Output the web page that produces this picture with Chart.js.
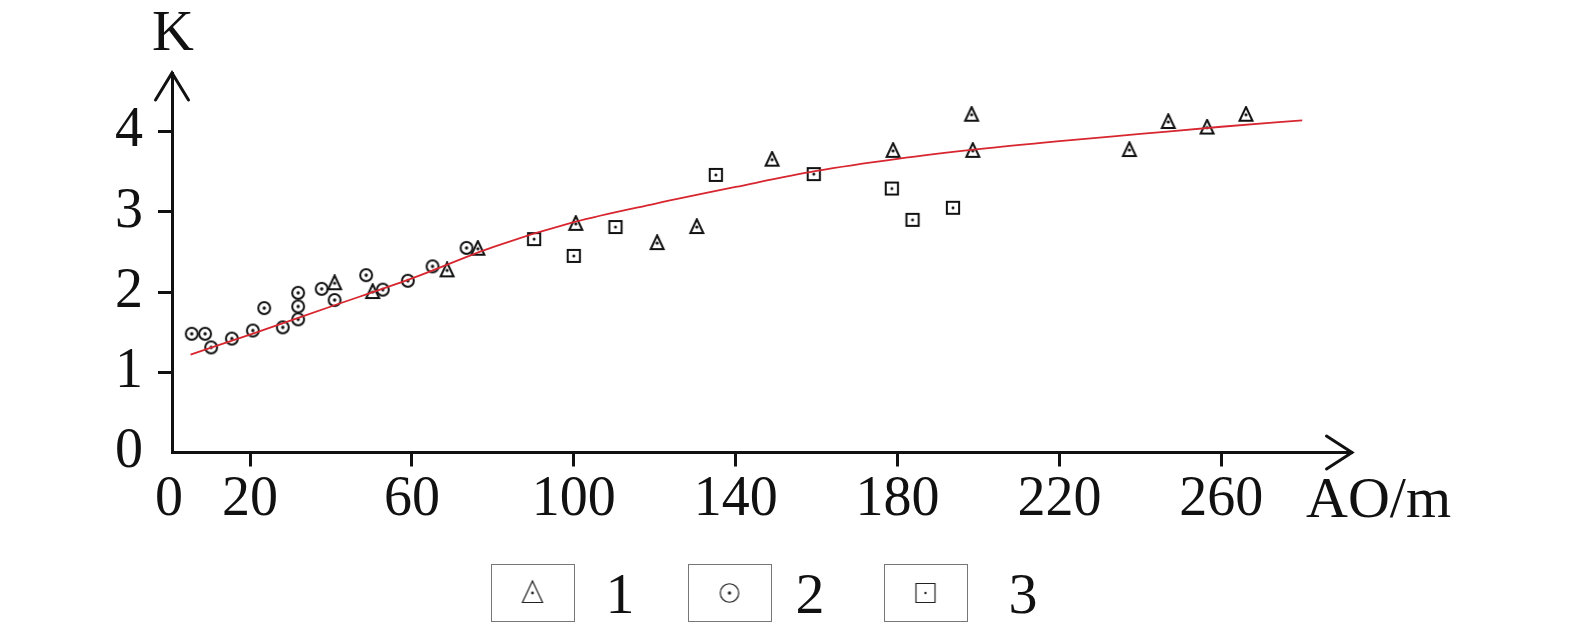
<!DOCTYPE html>
<html lang="en">
<head>
  <meta charset="UTF-8">
  <title>K vs AO/m</title>
  <script src="https://cdn.jsdelivr.net/npm/chart.js"></script>
  <style>
    html, body { margin: 0; padding: 0; background: #fff; }
    .chart-container { width: 1575px; height: 632px; position: relative; }
  </style>
</head>
<body>
  <div class="chart-container">
    <canvas id="kChart"></canvas>
  </div>

  <script>
    // series 1 (triangles)
    const s1X = [40.9, 50.3, 68.7, 76.3, 100.5, 120.6, 130.4, 149.0, 178.9, 198.3, 198.6, 237.3, 246.9, 256.5, 266.1];
    const s1Y = [2.11, 2.00, 2.27, 2.54, 2.85, 2.61, 2.81, 3.65, 3.76, 4.21, 3.76, 3.77, 4.12, 4.05, 4.21];
    // series 2 (circles)
    const s2X = [5.6, 8.9, 10.4, 15.5, 20.7, 23.5, 28.1, 31.9, 31.9, 31.9, 37.7, 40.9, 48.7, 52.8, 59.0, 65.1, 73.5];
    const s2Y = [1.48, 1.48, 1.31, 1.42, 1.52, 1.80, 1.56, 1.99, 1.82, 1.66, 2.04, 1.90, 2.21, 2.03, 2.14, 2.32, 2.55];
    // series 3 (squares)
    const s3X = [90.2, 100.0, 110.3, 135.1, 159.3, 178.6, 183.7, 193.7];
    const s3Y = [2.66, 2.45, 2.81, 3.46, 3.47, 3.29, 2.90, 3.05];
    // fitted curve
    const curveX = [5.3, 20, 40, 60, 80, 100, 120, 140, 160, 180, 200, 220, 240, 260, 280];
    const curveY = [1.22, 1.47, 1.82, 2.17, 2.56, 2.87, 3.10, 3.31, 3.51, 3.66, 3.78, 3.88, 3.97, 4.06, 4.14];

    const seriesLabels = ['1', '2', '3'];
    const xTickValues = [0, 20, 60, 100, 140, 180, 220, 260];
    const yTickValues = [0, 1, 2, 3, 4];

    const serif = "'Liberation Serif', 'DejaVu Serif', serif";
    const ink = '#111';

    function pairs(xs, ys) {
      return xs.map((x, i) => ({ x: x, y: ys[i] }));
    }

    // marker images: outline shape with a dot in the middle
    function makeMarker(kind, size, lw, dotR, color) {
      const c = document.createElement('canvas');
      c.width = size;
      c.height = size;
      const g = c.getContext('2d');
      const m = size / 2;
      g.strokeStyle = color;
      g.fillStyle = color;
      g.lineWidth = lw;
      g.lineJoin = 'miter';
      g.beginPath();
      if (kind === 'circle') {
        g.arc(m, m, size * 0.33, 0, Math.PI * 2);
      } else if (kind === 'square') {
        const h = size * 0.34;
        g.rect(m - h, m - h, 2 * h, 2 * h);
      } else {
        g.moveTo(m, size * 0.07);
        g.lineTo(m + size * 0.36, size * 0.84);
        g.lineTo(m - size * 0.36, size * 0.84);
        g.closePath();
      }
      g.stroke();
      g.beginPath();
      g.arc(m, m, dotR, 0, Math.PI * 2);
      g.fill();
      return c;
    }

    const plotMarkers = [
      makeMarker('triangle', 18, 2.0, 1.6, ink),
      makeMarker('circle', 18, 2.0, 1.7, ink),
      makeMarker('square', 18, 2.0, 1.5, ink)
    ];
    const legendMarkers = [
      makeMarker('triangle', 28, 1.2, 1.4, '#222'),
      makeMarker('circle', 28, 1.2, 1.7, '#222'),
      makeMarker('square', 28, 1.2, 1.2, '#222')
    ];

    // axis arrows, axis titles and the boxed legend
    const decorations = {
      id: 'decorations',
      afterDraw(chart) {
        const ctx = chart.ctx;
        const a = chart.chartArea;
        ctx.save();
        ctx.strokeStyle = ink;
        ctx.lineWidth = 3;
        ctx.lineCap = 'round';
        ctx.beginPath();
        ctx.moveTo(a.left - 16.5, a.top + 27);
        ctx.lineTo(a.left, a.top);
        ctx.lineTo(a.left + 16.5, a.top + 27);
        ctx.moveTo(a.right - 25.5, a.bottom - 16.5);
        ctx.lineTo(a.right, a.bottom);
        ctx.lineTo(a.right - 25.5, a.bottom + 16.5);
        ctx.stroke();

        ctx.fillStyle = ink;
        ctx.font = '58px ' + serif;
        ctx.textBaseline = 'alphabetic';
        ctx.textAlign = 'center';
        ctx.fillText('K', a.left + 1, 50);
        ctx.textAlign = 'left';
        ctx.fillText('AO/m', 1306, 517);

        // legend
        const boxLeft = [491, 688, 884];
        const labelCenter = [620, 810, 1023];
        ctx.lineWidth = 1;
        ctx.strokeStyle = '#777';
        ctx.textAlign = 'center';
        ctx.font = '58px ' + serif;
        chart.data.datasets.slice(1).forEach((ds, i) => {
          ctx.strokeRect(boxLeft[i] + 0.5, 564.5, 83, 57);
          const img = legendMarkers[i];
          ctx.drawImage(img, boxLeft[i] + 41.5 - img.width / 2, 593 - img.height / 2);
          ctx.fillText(ds.label, labelCenter[i], 613);
        });
        ctx.restore();
      }
    };

    const config = {
      type: 'scatter',
      data: {
        datasets: [
          {
            label: 'fit',
            data: pairs(curveX, curveY),
            showLine: true,
            borderColor: '#d7262f',
            borderWidth: 1.8,
            pointRadius: 0,
            tension: 0.4,
            cubicInterpolationMode: 'monotone'
          },
          {
            label: seriesLabels[0],
            data: pairs(s1X, s1Y),
            pointStyle: plotMarkers[0],
            pointRadius: 9
          },
          {
            label: seriesLabels[1],
            data: pairs(s2X, s2Y),
            pointStyle: plotMarkers[1],
            pointRadius: 9
          },
          {
            label: seriesLabels[2],
            data: pairs(s3X, s3Y),
            pointStyle: plotMarkers[2],
            pointRadius: 9
          }
        ]
      },
      options: {
        responsive: true,
        maintainAspectRatio: false,
        animation: false,
        layout: { padding: { top: 73, right: 223, left: 0, bottom: 0 } },
        plugins: {
          legend: { display: false },
          tooltip: { enabled: false }
        },
        scales: {
          x: {
            type: 'linear',
            min: 0.72,
            max: 292.3,
            afterBuildTicks: s => { s.ticks = xTickValues.map(v => ({ value: v })); },
            afterFit: s => { s.height = 632 - 452.5; },
            border: { display: true, color: ink, width: 3 },
            grid: {
              drawOnChartArea: false,
              drawTicks: true,
              tickLength: 14,
              tickWidth: 3,
              tickColor: c => (c.tick && c.tick.value === 0) ? 'rgba(0,0,0,0)' : ink
            },
            ticks: {
              font: { family: serif, size: 56 },
              color: ink,
              padding: 0,
              maxRotation: 0,
              autoSkip: false,
              callback: v => String(v)
            }
          },
          y: {
            min: 0,
            max: 4.73,
            afterBuildTicks: s => { s.ticks = yTickValues.map(v => ({ value: v })); },
            afterFit: s => { s.width = 172; },
            border: { display: true, color: ink, width: 3 },
            grid: {
              drawOnChartArea: false,
              drawTicks: true,
              tickLength: 14,
              tickWidth: 3,
              tickColor: c => (c.tick && c.tick.value === 0) ? 'rgba(0,0,0,0)' : ink
            },
            ticks: {
              font: { family: serif, size: 56 },
              color: ink,
              padding: 15,
              callback: v => String(v)
            }
          }
        }
      },
      plugins: [decorations]
    };

    const kChart = new Chart(document.getElementById('kChart'), config);
  </script>
</body>
</html>
